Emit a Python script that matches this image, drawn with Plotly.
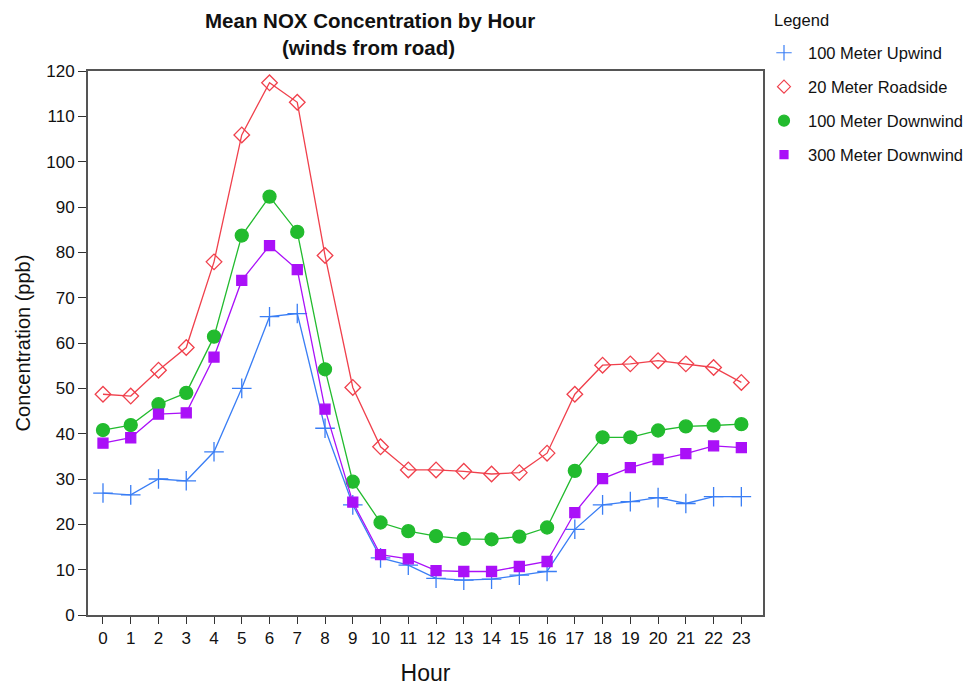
import plotly.graph_objects as go

hours = list(range(24))
hour_labels = [str(h) for h in hours]

upwind_100 = [26.9, 26.5, 30.0, 29.6, 36.0, 50.0, 65.8, 66.5, 41.2, 24.3, 12.6, 11.0,
              8.1, 7.7, 7.9, 8.8, 9.6, 18.9, 24.3, 25.0, 25.9, 24.6, 26.1, 26.1]
roadside_20 = [48.7, 48.3, 54.0, 59.0, 77.9, 105.9, 117.4, 113.1, 79.3, 50.2, 37.1, 32.0,
               32.0, 31.7, 31.1, 31.4, 35.7, 48.7, 55.1, 55.4, 56.1, 55.4, 54.6, 51.3]
downwind_100 = [40.8, 41.9, 46.5, 49.0, 61.4, 83.7, 92.3, 84.5, 54.2, 29.4, 20.4, 18.5,
                17.4, 16.8, 16.7, 17.3, 19.3, 31.8, 39.2, 39.2, 40.7, 41.6, 41.8, 42.1]
downwind_300 = [37.9, 39.1, 44.3, 44.6, 56.9, 73.8, 81.5, 76.2, 45.4, 24.9, 13.3, 12.4,
                9.8, 9.6, 9.6, 10.7, 11.8, 22.6, 30.1, 32.5, 34.3, 35.6, 37.3, 36.9]

series_names = ["100 Meter Upwind", "20 Meter Roadside", "100 Meter Downwind", "300 Meter Downwind"]
y_ticks = list(range(0, 121, 10))
title_lines = ["Mean NOX Concentration by Hour", "(winds from road)"]

colors = ["#3a7ef5", "#f0404c", "#22bb2e", "#aa10f8"]
symbols = ["cross-thin", "diamond-open", "circle", "square"]
sizes = [14, 12, 13, 10]
legend_sizes = [11, 10, 11, 8]

fig = go.Figure()
all_series = [upwind_100, roadside_20, downwind_100, downwind_300]
for i, (name, vals) in enumerate(zip(series_names, all_series)):
    fig.add_trace(go.Scatter(
        x=hours, y=vals, name=name, mode="lines+markers",
        legendgroup=name, showlegend=False,
        line=dict(color=colors[i], width=1.3),
        marker=dict(symbol=symbols[i], size=sizes[i], color=colors[i],
                    line=dict(color=colors[i], width=1.3)),
    ))
# legend entries (markers only, as in the reference legend)
for i, name in enumerate(series_names):
    fig.add_trace(go.Scatter(
        x=[None], y=[None], name=name, mode="markers", legendgroup=name,
        marker=dict(symbol=symbols[i], size=legend_sizes[i], color=colors[i],
                    line=dict(color=colors[i], width=1.2)),
    ))

W, H = 970, 686
L, R, T, B = 88, 207, 71, 71
font_family = "Liberation Sans, Arial, sans-serif"
fig.update_layout(
    width=W, height=H,
    paper_bgcolor="white", plot_bgcolor="white",
    margin=dict(l=L, r=R, t=T, b=B, autoexpand=False),
    font=dict(family=font_family, size=15, color="#111"),
    showlegend=True,
    legend=dict(
        x=760 / W, xanchor="left", xref="container",
        y=1 - 35.5 / H, yanchor="top", yref="container",
        tracegroupgap=9.5,
        font=dict(size=16.5),
        itemwidth=38,
        bgcolor="rgba(0,0,0,0)",
    ),
    xaxis=dict(
        range=[-0.54, 23.78], tickmode="array", tickvals=hours, ticktext=hour_labels,
        ticks="outside", ticklen=7, tickcolor="#333", showgrid=False, zeroline=False,
        showline=True, linecolor="#555", linewidth=2, mirror=True, automargin=False,
        tickfont=dict(size=17, color="#111"),
        title=dict(text="Hour", font=dict(size=23, color="#111"), standoff=20),
    ),
    yaxis=dict(
        range=[0, 120], tickmode="array", tickvals=y_ticks,
        ticks="outside", ticklen=8, tickcolor="#333", showgrid=False, zeroline=False,
        showline=True, linecolor="#555", linewidth=2, mirror=True, automargin=False,
        tickfont=dict(size=17, color="#111"),
        title=dict(text="Concentration (ppb)", font=dict(size=20, color="#111"), standoff=10),
    ),
    annotations=[
        dict(text="<b>" + title_lines[0] + "</b>", xref="paper", yref="paper",
             x=(370 - L) / (W - L - R), y=1.0, xanchor="center", yanchor="middle",
             yshift=T - 20, showarrow=False, font=dict(size=20.5, color="#111")),
        dict(text="<b>" + title_lines[1] + "</b>", xref="paper", yref="paper",
             x=(368 - L) / (W - L - R), y=1.0, xanchor="center", yanchor="middle",
             yshift=T - 47, showarrow=False, font=dict(size=20.5, color="#111")),
        dict(text="Legend", xref="paper", yref="paper",
             x=(772 - L) / (W - L - R), y=1.0, xanchor="left", yanchor="middle",
             yshift=T - 20, showarrow=False, font=dict(size=16.5, color="#111")),
    ],
)

fig.write_html("out.html", config={"displayModeBar": False},
               post_script="document.body.style.margin='0px';document.body.style.padding='0px';")
